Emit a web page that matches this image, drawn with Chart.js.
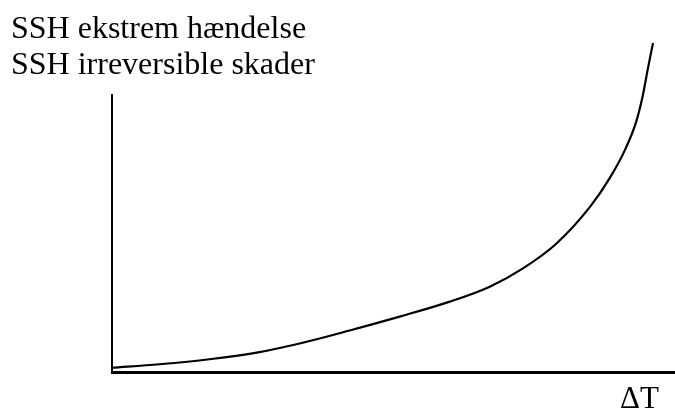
<!DOCTYPE html>
<html>
<head>
<meta charset="utf-8">
<script src="https://cdn.jsdelivr.net/npm/chart.js@4/dist/chart.umd.min.js"></script>
<style>
html,body{margin:0;padding:0;background:#fff;}
#wrap{width:675px;height:409px;position:relative;}
</style>
</head>
<body>
<div id="wrap"><canvas id="c" width="675" height="409"></canvas></div>
<script>
const yLabels = ["SSH ekstrem hændelse", "SSH irreversible skader"];
const xLabel = "ΔT";
const deltaT = [0, 0.84, 1.73, 2.62, 3.51, 4.22, 5.11, 6.00, 6.71, 7.30, 7.90, 8.49, 8.84, 9.11, 9.31, 9.43, 9.52, 9.61];
const ssh    = [0.155, 0.28, 0.46, 0.72, 1.12, 1.50, 2.00, 2.54, 3.08, 3.74, 4.65, 5.96, 7.00, 8.01, 9.03, 10.00, 10.97, 11.88];

const points = deltaT.map((x, i) => ({x: x, y: ssh[i]}));

const textPlugin = {
  id: 'texts',
  afterDraw(chart) {
    const ctx = chart.ctx;
    ctx.save();
    ctx.fillStyle = '#000';
    ctx.font = '32px "Liberation Serif", "Times New Roman", serif';
    ctx.textBaseline = 'alphabetic';
    ctx.textAlign = 'left';
    ctx.fillText(yLabels[0], 11, 37.5);
    ctx.fillText(yLabels[1], 11, 74);
    ctx.font = '31px "Liberation Serif", "Times New Roman", serif';
    ctx.fillText(xLabel, 620, 408);
    ctx.restore();
  }
};

new Chart(document.getElementById('c'), {
  type: 'line',
  data: {
    datasets: [{
      data: points,
      borderColor: '#000',
      borderWidth: 2.2,
      pointRadius: 0,
      fill: false,
      cubicInterpolationMode: 'monotone',
      clip: false
    }]
  },
  options: {
    responsive: false,
    animation: false,
    devicePixelRatio: 1,
    layout: {padding: {left: 104, top: 95, right: 0, bottom: 29}},
    plugins: {legend: {display: false}, tooltip: {enabled: false}, title: {display: false}},
    scales: {
      x: {
        type: 'linear', min: 0, max: 10,
        grid: {display: false},
        ticks: {display: false},
        border: {display: true, color: '#000', width: 3}
      },
      y: {
        type: 'linear', min: 0, max: 10,
        grid: {display: false},
        ticks: {display: false},
        border: {display: true, color: '#000', width: 2}
      }
    }
  },
  plugins: [textPlugin]
});
</script>
</body>
</html>
